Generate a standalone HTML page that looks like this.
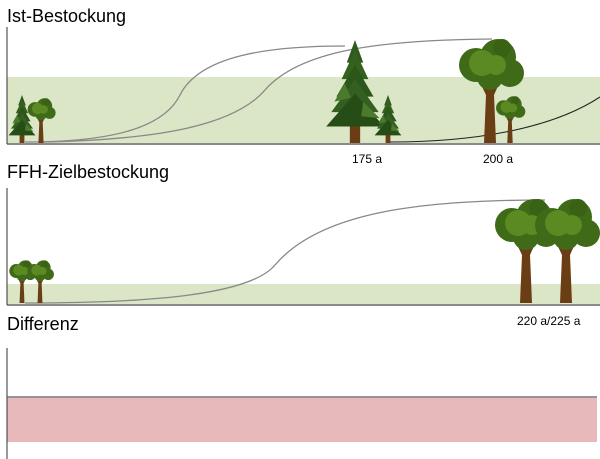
<!DOCTYPE html>
<html><head><meta charset="utf-8"><style>
html,body{margin:0;padding:0;background:#fff;}
svg{display:block;}
</style></head><body>
<svg width="600" height="459" viewBox="0 0 600 459" xmlns="http://www.w3.org/2000/svg">
<defs>
<g id="leaf">
  <path d="M-6,0 L6,0 L4,-48 L12,-66 L7,-68 L1,-54 L-8,-70 L-13,-67 L-4,-48 Z" fill="#6b3d14"/>
  <circle cx="-14" cy="-78" r="17" fill="#3f6a17"/>
  <circle cx="8" cy="-86" r="18" fill="#3f6a17"/>
  <circle cx="20" cy="-70" r="14" fill="#3f6a17"/>
  <circle cx="0" cy="-66" r="13" fill="#3f6a17"/>
  <circle cx="12" cy="-95" r="9" fill="#3a6215"/>
  <circle cx="-8" cy="-80" r="13" fill="#5b8a22"/>
  <circle cx="6" cy="-78" r="10" fill="#5b8a22"/>
</g>
<g id="spruce">
  <rect x="-5" y="-18" width="10" height="18" fill="#6b3d14"/>
  <polygon points="0,-100 -8,-78 8,-78" fill="#2f5a1e"/>
  <polygon points="0,-90 -13,-62 13,-62" fill="#35611f"/>
  <polygon points="0,-76 -18,-45 18,-45" fill="#2d561b"/>
  <polygon points="0,-62 -23,-30 23,-30" fill="#355f20"/>
  <polygon points="0,-48 -28,-16 28,-16" fill="#274d17"/>
  <polygon points="-10,-58 -20,-40 -4,-44" fill="#4a7a2a"/>
  <polygon points="8,-40 24,-24 6,-26" fill="#4a7a2a"/>
</g>
</defs>
<g font-family="Liberation Sans, sans-serif" fill="#000">
<text x="7" y="22" font-size="18">Ist-Bestockung</text>
<text x="7" y="178" font-size="18">FFH-Zielbestockung</text>
<text x="7" y="330" font-size="18">Differenz</text>
<text x="352" y="163" font-size="12">175 a</text>
<text x="483" y="163" font-size="12">200 a</text>
<text x="517" y="325" font-size="12">220 a/225 a</text>
</g>
<!-- panel 1 -->
<rect x="7" y="77" width="593" height="66" fill="#dae6c6"/>
<line x1="7" y1="27" x2="7" y2="144" stroke="#333" stroke-width="1"/>
<line x1="7" y1="144" x2="600" y2="144" stroke="#444" stroke-width="1.2"/>
<path d="M25,142 C120,142 165,125 180,95 C200,55 270,46 345,46" fill="none" stroke="#888" stroke-width="1.3"/>
<path d="M40,142 C160,140 235,125 265,90 C300,50 380,40 492,39" fill="none" stroke="#888" stroke-width="1.3"/>
<path d="M390,142 C470,142 550,130 600,97" fill="none" stroke="#222" stroke-width="1.1"/>
<use href="#spruce" transform="translate(22,143) scale(0.48)"/>
<use href="#leaf" transform="translate(41,143) scale(0.43)"/>
<use href="#spruce" transform="translate(355,143) scale(1.03)"/>
<use href="#spruce" transform="translate(388,143) scale(0.48)"/>
<use href="#leaf" transform="translate(490,143) scale(1.0)"/>
<use href="#leaf" transform="translate(510,143) scale(0.45)"/>
<!-- panel 2 -->
<rect x="7" y="284" width="593" height="20" fill="#dae6c6"/>
<line x1="7" y1="188" x2="7" y2="305" stroke="#333" stroke-width="1"/>
<line x1="7" y1="305" x2="600" y2="305" stroke="#444" stroke-width="1.2"/>
<path d="M25,303 C150,303 250,295 275,265 C320,212 420,200 545,200" fill="none" stroke="#888" stroke-width="1.3"/>
<use href="#leaf" transform="translate(22,303) scale(0.41)"/>
<use href="#leaf" transform="translate(40,303) scale(0.41)"/>
<use href="#leaf" transform="translate(526,303) scale(1.0)"/>
<use href="#leaf" transform="translate(566,303) scale(1.0)"/>
<!-- panel 3 -->
<rect x="7" y="398" width="590" height="44" fill="#e8b9ba"/>
<line x1="7" y1="348" x2="7" y2="459" stroke="#333" stroke-width="1"/>
<line x1="7" y1="397" x2="597" y2="397" stroke="#555" stroke-width="1.2"/>
</svg>
</body></html>
